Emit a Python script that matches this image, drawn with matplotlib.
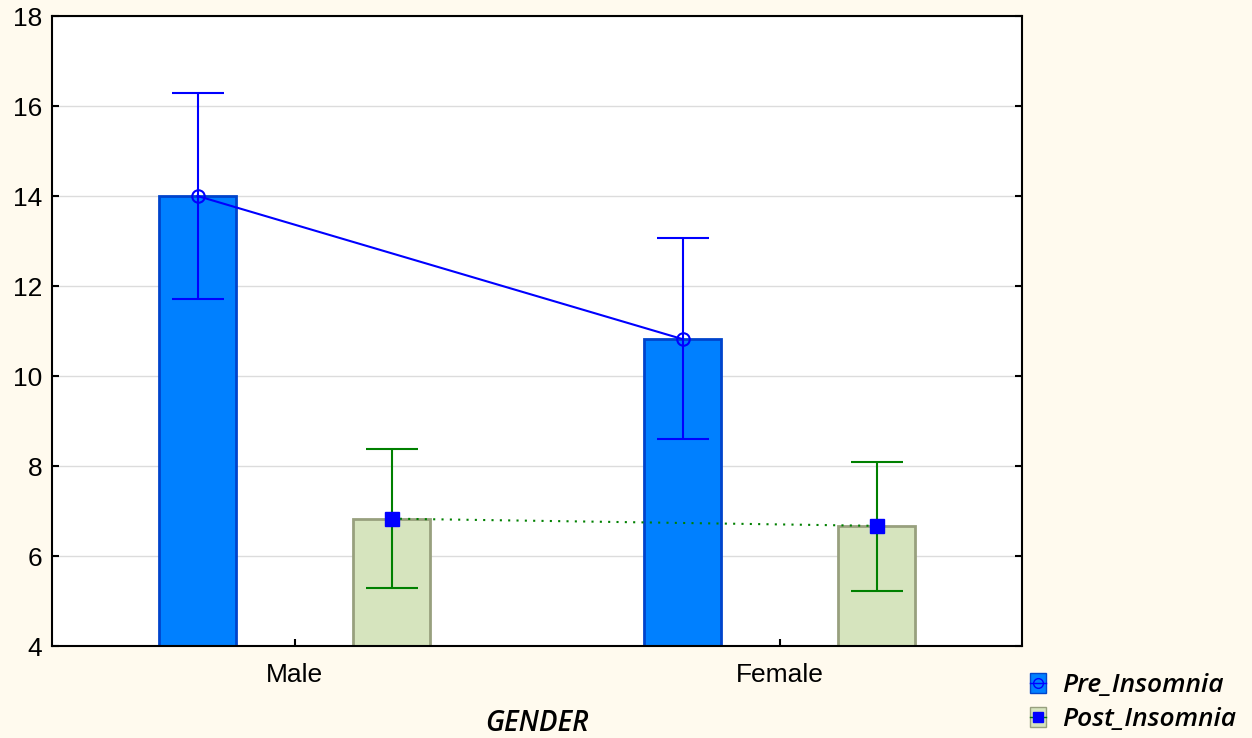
import numpy as np
import matplotlib.pyplot as plt
from matplotlib.patches import Patch
from matplotlib.lines import Line2D
from matplotlib.legend_handler import HandlerTuple

# Data
genders = ["Male", "Female"]
pre_mean = [14.0, 10.82]
pre_upper = [16.29, 13.07]
pre_lower = [11.71, 8.6]
post_mean = [6.83, 6.67]
post_upper = [8.38, 8.09]
post_lower = [5.29, 5.22]

bg = "#FFFAEE"
x = np.arange(len(genders))
off = 0.2
w = 0.16

fig = plt.figure(figsize=(12.52, 7.38), dpi=100, facecolor=bg)
ax = fig.add_axes([52/1252, 92/738, 970/1252, 630/738])
ax.set_facecolor("white")

pre = np.array(pre_mean)
post = np.array(post_mean)
pre_err = [pre - np.array(pre_lower), np.array(pre_upper) - pre]
post_err = [post - np.array(post_lower), np.array(post_upper) - post]

# bars
ax.bar(x - off, pre - 4, bottom=4, width=w, color="#0080FF", edgecolor="#0044CC", linewidth=2, zorder=2)
ax.bar(x + off, post - 4, bottom=4, width=w, color="#D6E4BE", edgecolor="#98A07E", linewidth=2, zorder=2)

# lines, error bars and markers
ax.errorbar(x - off, pre, yerr=pre_err, color="#0000FF", lw=1.5, capsize=19, capthick=1.5,
            marker="o", ms=9, mfc="none", mec="#0000FF", mew=1.5, zorder=3)
ax.plot(x + off, post, color="#008000", ls=(0, (1, 3)), lw=1.5, zorder=3)
ax.errorbar(x + off, post, yerr=post_err, color="#008000", lw=1.5, capsize=19, capthick=1.5,
            fmt="none", zorder=3)
ax.plot(x + off, post, ls="none", marker="s", ms=10, mfc="#0000FF", mec="#0000FF", zorder=4)

ax.set_xlim(-0.5, 1.5)
ax.set_ylim(4, 18)
ax.set_yticks(np.arange(4, 19, 2))
ax.set_xticks(x)
ax.set_xticklabels(genders)
ax.grid(axis="y", color="#DCDCDC", lw=1, zorder=0)
ax.set_axisbelow(True)
ax.tick_params(direction="in", length=5, width=1.5, labelsize=19, right=True)
ax.tick_params(axis="x", pad=12)
ax.tick_params(axis="y", pad=7)
for lbl in ax.get_xticklabels() + ax.get_yticklabels():
    lbl.set_fontfamily("Liberation Sans")
for s in ax.spines.values():
    s.set_linewidth(1.5)

ax.set_xlabel("GENDER", fontsize=20, fontstyle="italic", fontweight="semibold",
              family="Open Sans", labelpad=16)

# legend: patch with the series marker drawn on top
h_pre = (Patch(facecolor="#0080FF", edgecolor="#0044CC"),
         Line2D([], [], color="#0000FF", marker="o", mfc="none", ms=7, lw=1))
h_post = (Patch(facecolor="#D6E4BE", edgecolor="#98A07E"),
          Line2D([], [], color="#008000", marker="s", mfc="#0000FF", mec="#0000FF", ms=7, lw=1))
fig.legend([h_pre, h_post], ["Pre_Insomnia", "Post_Insomnia"],
           handler_map={tuple: HandlerTuple(ndivide=None, pad=-0.6)},
           loc="upper left", bbox_to_anchor=(1030/1252, 1 - 673/738), frameon=False,
           borderpad=0, borderaxespad=0, handlelength=0.6, handleheight=0.8,
           handletextpad=0.6, labelspacing=0.33,
           prop={"family": "Open Sans", "style": "italic", "weight": "semibold", "size": 19})

fig.savefig("out.png", dpi=100, facecolor=bg)
